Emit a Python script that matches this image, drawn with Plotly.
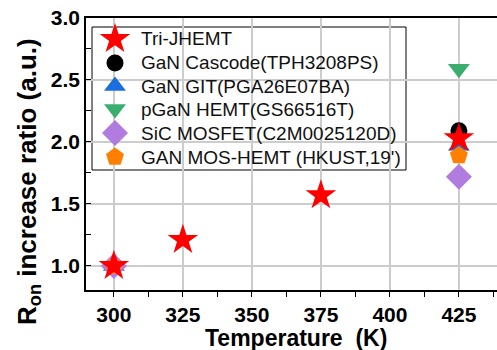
import plotly.graph_objects as go

temps_tri = [300, 325, 375, 425]
ron_tri = [1.0, 1.21, 1.57, 2.03]
temps_other = [300, 425]
ron_cascode = [1.0, 2.09]
ron_git = [1.0, 1.97]
ron_pgan = [1.0, 2.59]
ron_sic = [1.0, 1.72]
ron_mos = [1.0, 1.89]
x_ticks = [300, 325, 350, 375, 400, 425]
y_ticks = [1.0, 1.5, 2.0, 2.5, 3.0]

names = ["Tri-JHEMT", "GaN Cascode(TPH3208PS)", "GaN GIT(PGA26E07BA)",
         "pGaN HEMT(GS66516T)", "SiC MOSFET(C2M0025120D)", "GAN MOS-HEMT (HKUST,19')"]

FONT = "Arial, Liberation Sans, sans-serif"
W, H = 497, 350
ML, MR, MT, MB = 86, 0, 18, 60
PW, PH = W - ML - MR, H - MT - MB

def px(xp):
    return (xp - ML) / PW

def py(yp):
    return (H - MB - yp) / PH

styles = [
    ("star", "#ff0000", 23),
    ("circle", "#000000", 17),
    ("triangle-up", "#1a6ee0", 19),
    ("triangle-down", "#3aae6e", 19),
    ("diamond", "#b07ce0", 20),
    ("pentagon", "#ff8000", 19),
]
series = [(temps_tri, ron_tri), (temps_other, ron_cascode), (temps_other, ron_git),
          (temps_other, ron_pgan), (temps_other, ron_sic), (temps_other, ron_mos)]

fig = go.Figure()
# data traces: draw Tri-JHEMT last so it sits on top
for i in [1, 2, 3, 4, 5, 0]:
    sym, col, sz = styles[i]
    xs, ys = series[i]
    fig.add_trace(go.Scatter(x=xs, y=ys, mode="markers", name=names[i], showlegend=False,
                             marker=dict(symbol=sym, color=col, size=sz, line=dict(width=0))))

# custom legend (compact rows like the reference)
row_y = [39, 63, 86, 109, 133, 157]
leg_x = [px(115)] * len(names)
for i, nm in enumerate(names):
    sym, col, sz = styles[i]
    fig.add_trace(go.Scatter(x=[leg_x[i]], y=[py(row_y[i])], xaxis="x2", yaxis="y2",
                             mode="markers", name=nm, showlegend=False, hoverinfo="skip",
                             marker=dict(symbol=sym, color=col, size=sz, line=dict(width=0))))

annotations = [
    dict(text=nm, xref="paper", yref="paper", x=px(139), y=py(row_y[i]),
         xanchor="left", yanchor="middle", showarrow=False,
         font=dict(size=19, family=FONT, color="#111"))
    for i, nm in enumerate(names)
]
annotations += [
    dict(text="<b>R<sub>on</sub> increase ratio (a.u.)</b>", textangle=-90,
         xref="paper", yref="paper", x=px(28), y=py(182), xanchor="center", yanchor="middle",
         showarrow=False, font=dict(size=26, family=FONT, color="#000")),
    dict(text="<b>Temperature  (K)</b>",
         xref="paper", yref="paper", x=px(296), y=py(338), xanchor="center", yanchor="middle",
         showarrow=False, font=dict(size=23, family=FONT, color="#000")),
]

fig.update_layout(
    width=W, height=H,
    margin=dict(l=ML, r=MR, t=MT, b=MB),
    plot_bgcolor="white", paper_bgcolor="white",
    font=dict(family=FONT, color="#000"),
    showlegend=False,
    xaxis=dict(range=[289.9, 438.8], tickvals=x_ticks,
               ticktext=["<b>%d</b>" % v for v in x_ticks],
               showgrid=True, gridcolor="#cccccc", gridwidth=1.5,
               showline=True, linecolor="#000", linewidth=1.5, mirror=True,
               ticks="outside", ticklen=5, tickcolor="#000",
               minor=dict(ticks="outside", ticklen=5, tickcolor="#000", dtick=12.5, tick0=300),
               tickfont=dict(size=21, family=FONT),
               automargin=False, zeroline=False),
    yaxis=dict(range=[0.806, 3.0], tickvals=y_ticks,
               ticktext=["<b>%.1f</b>" % v for v in y_ticks],
               showgrid=True, gridcolor="#cccccc", gridwidth=1.5,
               showline=True, linecolor="#000", linewidth=1.5, mirror=False,
               ticks="inside", ticklen=5, tickcolor="#000",
               minor=dict(ticks="inside", ticklen=5, tickcolor="#000", dtick=0.25, tick0=1.0),
               tickfont=dict(size=21, family=FONT),
               automargin=False, zeroline=False),
    xaxis2=dict(overlaying="x", range=[0, 1], visible=False, fixedrange=True),
    yaxis2=dict(overlaying="y", range=[0, 1], visible=False, fixedrange=True),
    shapes=[dict(type="rect", xref="paper", yref="paper",
                 x0=px(92), x1=px(406), y0=py(170), y1=py(27),
                 fillcolor="white", line=dict(color="#000", width=1), layer="between")],
    annotations=annotations,
)
fig.write_html("out.html")
